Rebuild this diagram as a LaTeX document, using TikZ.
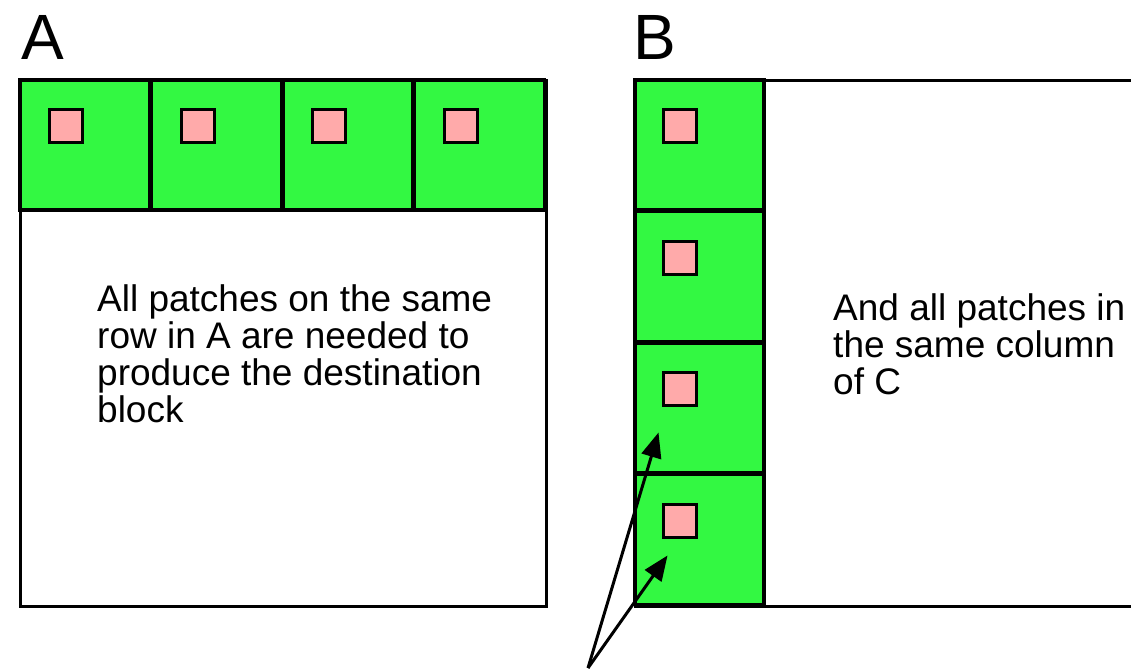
\documentclass[tikz,border=0pt]{standalone}
\usepackage{fontspec}
\setmainfont{Liberation Sans}
\usetikzlibrary{arrows.meta,calc}
\definecolor{cellgreen}{RGB}{51,248,66}
\definecolor{patchpink}{RGB}{255,170,170}
\tikzset{
  cell/.style={draw=black,fill=cellgreen,line width=3.5pt},
  patch/.style={draw=black,fill=patchpink,line width=3pt,minimum size=33pt,inner sep=0pt},
  matrixbox/.style={draw=black,fill=white,line width=3pt},
  panel/.style={font=\fontsize{64}{64}\selectfont,anchor=north west,inner sep=0pt},
  blurb/.style={font=\fontsize{37}{37}\selectfont,align=left,anchor=north west,inner sep=0pt},
  pointer/.style={line width=3pt,-{Triangle[length=25pt,width=20pt]}}
}
\begin{document}
\begin{tikzpicture}[line join=miter,x=1pt,y=-1pt]
\useasboundingbox (0,0) rectangle (1131,670);
% panel A: one row of patches
\node[panel] (labA) at (21,15) {A};
\draw[matrixbox] (20,80) rectangle (546,606);
\foreach \i in {0,1,2,3}{
  \draw[cell] (20+131.5*\i,80) rectangle +(130,130);
  \node[patch] (pa\i) at (66+131.5*\i,126) {};
}
\node[blurb] (txtA) at (97,284) {All patches on the same\\row in A are needed to\\produce the destination\\block};
% panel B: one column of patches
\node[panel] (labB) at (633.5,15) {B};
\draw[matrixbox] (635,80) rectangle (1145,606);
\foreach \j in {0,1,2,3}{
  \draw[cell] (635,80+131.5*\j) rectangle +(129,130);
  \node[patch] (pb\j) at (680,126+131.5*\j) {};
}
\node[blurb] (txtB) at (833,293) {And all patches in\\the same column\\of C};
% pointers
\coordinate (src) at (588,668);
\coordinate (tipc) at ($(pb2.south west)+(-3.5,25.5)$);
\coordinate (tipd) at ($(pb3.south west)+(5.5,17)$);
\draw[pointer] (src) -- (tipc);
\draw[pointer] (src) -- (tipd);
\end{tikzpicture}
\end{document}
